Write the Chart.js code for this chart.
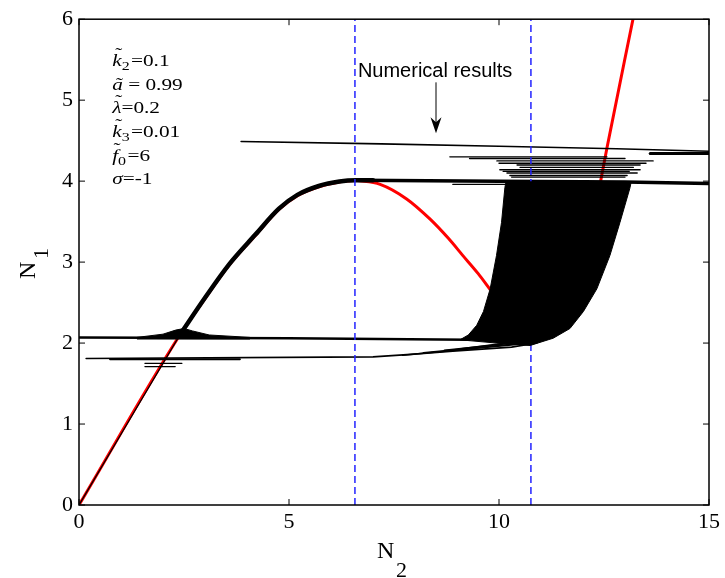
<!DOCTYPE html>
<html>
<head>
<meta charset="utf-8">
<script src="https://cdn.jsdelivr.net/npm/chart.js@4.4.0/dist/chart.umd.min.js"></script>
<style>
    html, body { margin: 0; padding: 0; background: #fff; }
</style>
</head>
<body>
<canvas id="bifChart" width="725" height="578"></canvas>
<script>
// axis ticks
const n2Ticks = [0, 5, 10, 15];
const n1Ticks = [0, 1, 2, 3, 4, 5, 6];

// analytical solution (red)
const redRiseN2 = [0, 2.4, 3.0, 3.57, 4.2, 4.76, 5.2, 5.71, 6.2, 6.6];
const redRiseN1 = [0, 2.1, 2.55, 2.96, 3.33, 3.65, 3.82, 3.93, 3.99, 4.01];
const redFallN2 = [6.6, 7.17, 7.8, 8.36, 8.8, 9.14, 9.5, 9.79];
const redFallN1 = [4.01, 3.96, 3.78, 3.53, 3.29, 3.08, 2.86, 2.66];
const redUpperN2 = [12.42, 12.57, 13.19];
const redUpperN1 = [4.0, 4.41, 6.0];

// jump points (blue dashed)
const criticalN2 = [6.57, 10.76];

// numerical results (black)
const numLowN2 = [0, 1.2, 2.4];
const numLowN1 = [0, 1.05, 2.1];
const numHighN2 = [2.4, 3.0, 3.57, 4.2, 4.76, 5.2, 5.71, 6.2, 6.6, 7.0];
const numHighN1 = [2.1, 2.56, 2.97, 3.34, 3.66, 3.83, 3.94, 3.995, 4.01, 4.01];

const lineMidN2 = [0, 5, 9.3];
const lineMidN1 = [2.07, 2.06, 2.04];
const lineLowN2 = [0.17, 7.0, 7.9, 8.9, 10.3, 10.9];
const lineLowN1 = [1.81, 1.83, 1.86, 1.90, 1.95, 2.0];
const lineTopN2 = [3.86, 7.2, 10, 12.8, 15];
const lineTopN1 = [4.49, 4.46, 4.43, 4.40, 4.37];
const lineFourN2 = [6.6, 10, 13, 15];
const lineFourN1 = [4.01, 4.0, 3.99, 3.97];
const lineRightN2 = [13.6, 15];
const lineRightN1 = [4.34, 4.34];

const fringeUpN2Start = [8.83, 9.3, 9.95, 10.0, 10.43, 10.5, 10.02, 10.1, 10.19, 10.26, 10.3, 8.90];
const fringeUpN2End = [12.57, 13.0, 13.67, 13.5, 13.36, 13.2, 13.36, 13.1, 13.29, 13.05, 13.0, 10.2];
const fringeUpN1 = [4.30, 4.28, 4.25, 4.22, 4.20, 4.17, 4.14, 4.12, 4.10, 4.07, 4.05, 3.96];

const fringeLowN2Start = [7.7, 8.2, 8.7, 9.1];
const fringeLowN2End = [10.8, 10.8, 10.7, 10.6];
const fringeLowN1Start = [1.85, 1.88, 1.91, 1.93];
const fringeLowN1End = [2.0, 2.01, 2.02, 2.03];

const crossN2Start = [0.74, 1.57, 1.57];
const crossN2End = [3.83, 2.45, 2.29];
const crossN1 = [1.80, 1.75, 1.71];

const blobN2 = [1.38, 2.0, 2.3, 2.5, 2.7, 3.1, 4.07, 4.07, 1.38];
const blobN1 = [2.07, 2.11, 2.16, 2.18, 2.15, 2.10, 2.07, 2.05, 2.05];

const bandN2 = [10.17, 10.14, 10.06, 9.94, 9.79, 9.63, 9.47, 9.27, 9.07, 9.94, 10.74, 11.29, 11.69, 12.01, 12.33, 12.64, 12.88, 13.12, 13.15];
const bandN1 = [4.0, 3.92, 3.49, 3.08, 2.67, 2.39, 2.22, 2.10, 2.04, 2.00, 1.97, 2.06, 2.18, 2.39, 2.67, 3.08, 3.49, 3.92, 4.0];

// annotation anchors (data units)
const paramN2 = 0.79;
const paramN1 = 5.42;
const labelAt = [6.64, 5.29];
const arrowN2 = 8.5;
const arrowN1 = [5.22, 4.59];

function pts(xs, ys) {
    return xs.map(function (x, i) { return { x: x, y: ys[i] }; });
}

function blackLine(data, w) {
    return {
        data: data, borderColor: '#000', borderWidth: w, pointRadius: 0,
        fill: false, tension: 0, order: 2, borderCapStyle: 'round'
    };
}

let datasets = [];

// filled region of the oscillating solution
datasets.push({
    data: pts(bandN2, bandN1), borderColor: '#000', backgroundColor: '#000',
    borderWidth: 1, pointRadius: 0, fill: 'shape', tension: 0, order: 0
});
datasets.push({
    data: pts(blobN2, blobN1), borderColor: '#000', backgroundColor: '#000',
    borderWidth: 1, pointRadius: 0, fill: 'shape', tension: 0, order: 0
});

criticalN2.forEach(function (v) {
    datasets.push({
        data: [{ x: v, y: 0 }, { x: v, y: 6 }], borderColor: '#2222ff', borderWidth: 1.5,
        borderDash: [7, 4], pointRadius: 0, fill: false, order: 1
    });
});

datasets.push(blackLine(pts(numLowN2, numLowN1), 1.3));
let rise = blackLine(pts(numHighN2, numHighN1), 4.5);
rise.cubicInterpolationMode = 'monotone';
datasets.push(rise);
datasets.push(blackLine(pts(lineMidN2, lineMidN1), 2.5));
datasets.push(blackLine(pts(lineLowN2, lineLowN1), 1.6));
datasets.push(blackLine(pts(lineTopN2, lineTopN1), 1.6));
datasets.push(blackLine(pts(lineFourN2, lineFourN1), 3.5));
datasets.push(blackLine(pts(lineRightN2, lineRightN1), 3));

fringeUpN1.forEach(function (v, i) {
    datasets.push(blackLine([{ x: fringeUpN2Start[i], y: v }, { x: fringeUpN2End[i], y: v }], 1.4));
});
fringeLowN1Start.forEach(function (v, i) {
    datasets.push(blackLine([{ x: fringeLowN2Start[i], y: v }, { x: fringeLowN2End[i], y: fringeLowN1End[i] }], 1.5));
});
crossN1.forEach(function (v, i) {
    datasets.push(blackLine([{ x: crossN2Start[i], y: v }, { x: crossN2End[i], y: v }], i === 0 ? 2 : 1.3));
});

[[redRiseN2, redRiseN1], [redFallN2, redFallN1], [redUpperN2, redUpperN1]].forEach(function (r) {
    datasets.push({
        data: pts(r[0], r[1]), borderColor: '#ff0000', borderWidth: 3,
        pointRadius: 0, fill: false, cubicInterpolationMode: 'monotone', order: 3
    });
});

// draws one line of the parameter list, stretched horizontally like the original
function mathLine(ctx, x, y, parts) {
    ctx.save();
    ctx.translate(x, y);
    ctx.scale(1.33, 1);
    let cx = 0;
    parts.forEach(function (p) {
        const size = p.sub ? 12 : 16;
        ctx.font = (p.italic ? 'italic ' : '') + size + 'px "Liberation Serif"';
        ctx.textAlign = 'left';
        ctx.fillText(p.t, cx, p.sub ? 4 : 0);
        const w = ctx.measureText(p.t).width;
        if (p.tilde) {
            ctx.font = '16px "Liberation Serif"';
            ctx.textAlign = 'center';
            ctx.fillText('\u02DC', cx + w / 2 + 1.5, -p.tilde);
        }
        cx += w + (p.gap || 0);
    });
    ctx.restore();
}

const framePlugin = {
    id: 'framePlugin',
    afterDatasetsDraw: function (chart) {
        const ctx = chart.ctx;
        const a = chart.chartArea;
        const xs = chart.scales.x;
        const ys = chart.scales.y;
        ctx.save();
        ctx.strokeStyle = '#000';
        ctx.lineWidth = 1.5;
        ctx.strokeRect(a.left, a.top, a.right - a.left, a.bottom - a.top);
        ctx.lineWidth = 1;
        ctx.beginPath();
        n2Ticks.forEach(function (v) {
            const p = xs.getPixelForValue(v);
            ctx.moveTo(p, a.bottom); ctx.lineTo(p, a.bottom - 6);
            ctx.moveTo(p, a.top); ctx.lineTo(p, a.top + 6);
        });
        n1Ticks.forEach(function (v) {
            const p = ys.getPixelForValue(v);
            ctx.moveTo(a.left, p); ctx.lineTo(a.left + 6, p);
            ctx.moveTo(a.right, p); ctx.lineTo(a.right - 6, p);
        });
        ctx.stroke();

        // parameter list
        ctx.fillStyle = '#000';
        ctx.textBaseline = 'alphabetic';
        const px = xs.getPixelForValue(paramN2);
        let py = ys.getPixelForValue(paramN1);
        const step = 23.6;
        mathLine(ctx, px, py, [{ t: 'k', italic: true, tilde: 7 }, { t: '2', sub: true, gap: 1 }, { t: '=0.1' }]);
        py += step;
        mathLine(ctx, px, py, [{ t: 'a', italic: true, tilde: 1 }, { t: ' = 0.99' }]);
        py += step;
        mathLine(ctx, px, py, [{ t: '\u03BB', italic: true, tilde: 7 }, { t: '=0.2' }]);
        py += step;
        mathLine(ctx, px, py, [{ t: 'k', italic: true, tilde: 7 }, { t: '3', sub: true, gap: 1 }, { t: '=0.01' }]);
        py += step;
        mathLine(ctx, px, py, [{ t: 'f', italic: true, tilde: 7 }, { t: '0', sub: true, gap: 1 }, { t: '=6' }]);
        py += step;
        mathLine(ctx, px, py, [{ t: '\u03C3', italic: true }, { t: '=-1' }]);

        // numerical results label and arrow
        ctx.font = '20px "Liberation Sans"';
        ctx.textAlign = 'left';
        ctx.fillText('Numerical results', xs.getPixelForValue(labelAt[0]), ys.getPixelForValue(labelAt[1]));
        const ax = xs.getPixelForValue(arrowN2);
        const ay0 = ys.getPixelForValue(arrowN1[0]);
        const ay1 = ys.getPixelForValue(arrowN1[1]);
        ctx.lineWidth = 1;
        ctx.beginPath();
        ctx.moveTo(ax, ay0); ctx.lineTo(ax, ay1 - 8);
        ctx.stroke();
        ctx.beginPath();
        ctx.moveTo(ax, ay1);
        ctx.lineTo(ax - 5.5, ay1 - 16);
        ctx.lineTo(ax, ay1 - 11);
        ctx.lineTo(ax + 5.5, ay1 - 16);
        ctx.closePath();
        ctx.fill();

        // axis titles
        const cx = (a.left + a.right) / 2;
        ctx.font = '24px "Liberation Serif"';
        ctx.textAlign = 'left';
        ctx.fillText('N', cx - 17, a.bottom + 53);
        ctx.font = '22px "Liberation Serif"';
        ctx.fillText('2', cx + 2, a.bottom + 72);

        const cy = (a.top + a.bottom) / 2;
        ctx.translate(35, cy + 17);
        ctx.rotate(-Math.PI / 2);
        ctx.font = '24px "Liberation Serif"';
        ctx.fillText('N', 0, 0);
        ctx.font = '22px "Liberation Serif"';
        ctx.fillText('1', 20, 13);
        ctx.restore();
    }
};

const tickFont = { family: 'Liberation Serif', size: 22 };

new Chart(document.getElementById('bifChart'), {
    type: 'line',
    data: { datasets: datasets },
    options: {
        responsive: false,
        animation: false,
        layout: { padding: { top: 15, right: 16, left: 0, bottom: 0 } },
        plugins: { legend: { display: false }, tooltip: { enabled: false } },
        scales: {
            x: {
                type: 'linear', min: 0, max: 15,
                afterBuildTicks: function (s) { s.ticks = n2Ticks.map(function (v) { return { value: v }; }); },
                afterFit: function (s) { s.height = 73; },
                ticks: { font: tickFont, color: '#000', padding: 4, maxRotation: 0 },
                grid: { display: false, drawTicks: false },
                border: { display: false }
            },
            y: {
                type: 'linear', min: 0, max: 6,
                afterBuildTicks: function (s) { s.ticks = n1Ticks.map(function (v) { return { value: v }; }); },
                afterFit: function (s) { s.width = 79; },
                ticks: { font: tickFont, color: '#000', padding: 6 },
                grid: { display: false, drawTicks: false },
                border: { display: false }
            }
        }
    },
    plugins: [framePlugin]
});
</script>
</body>
</html>
